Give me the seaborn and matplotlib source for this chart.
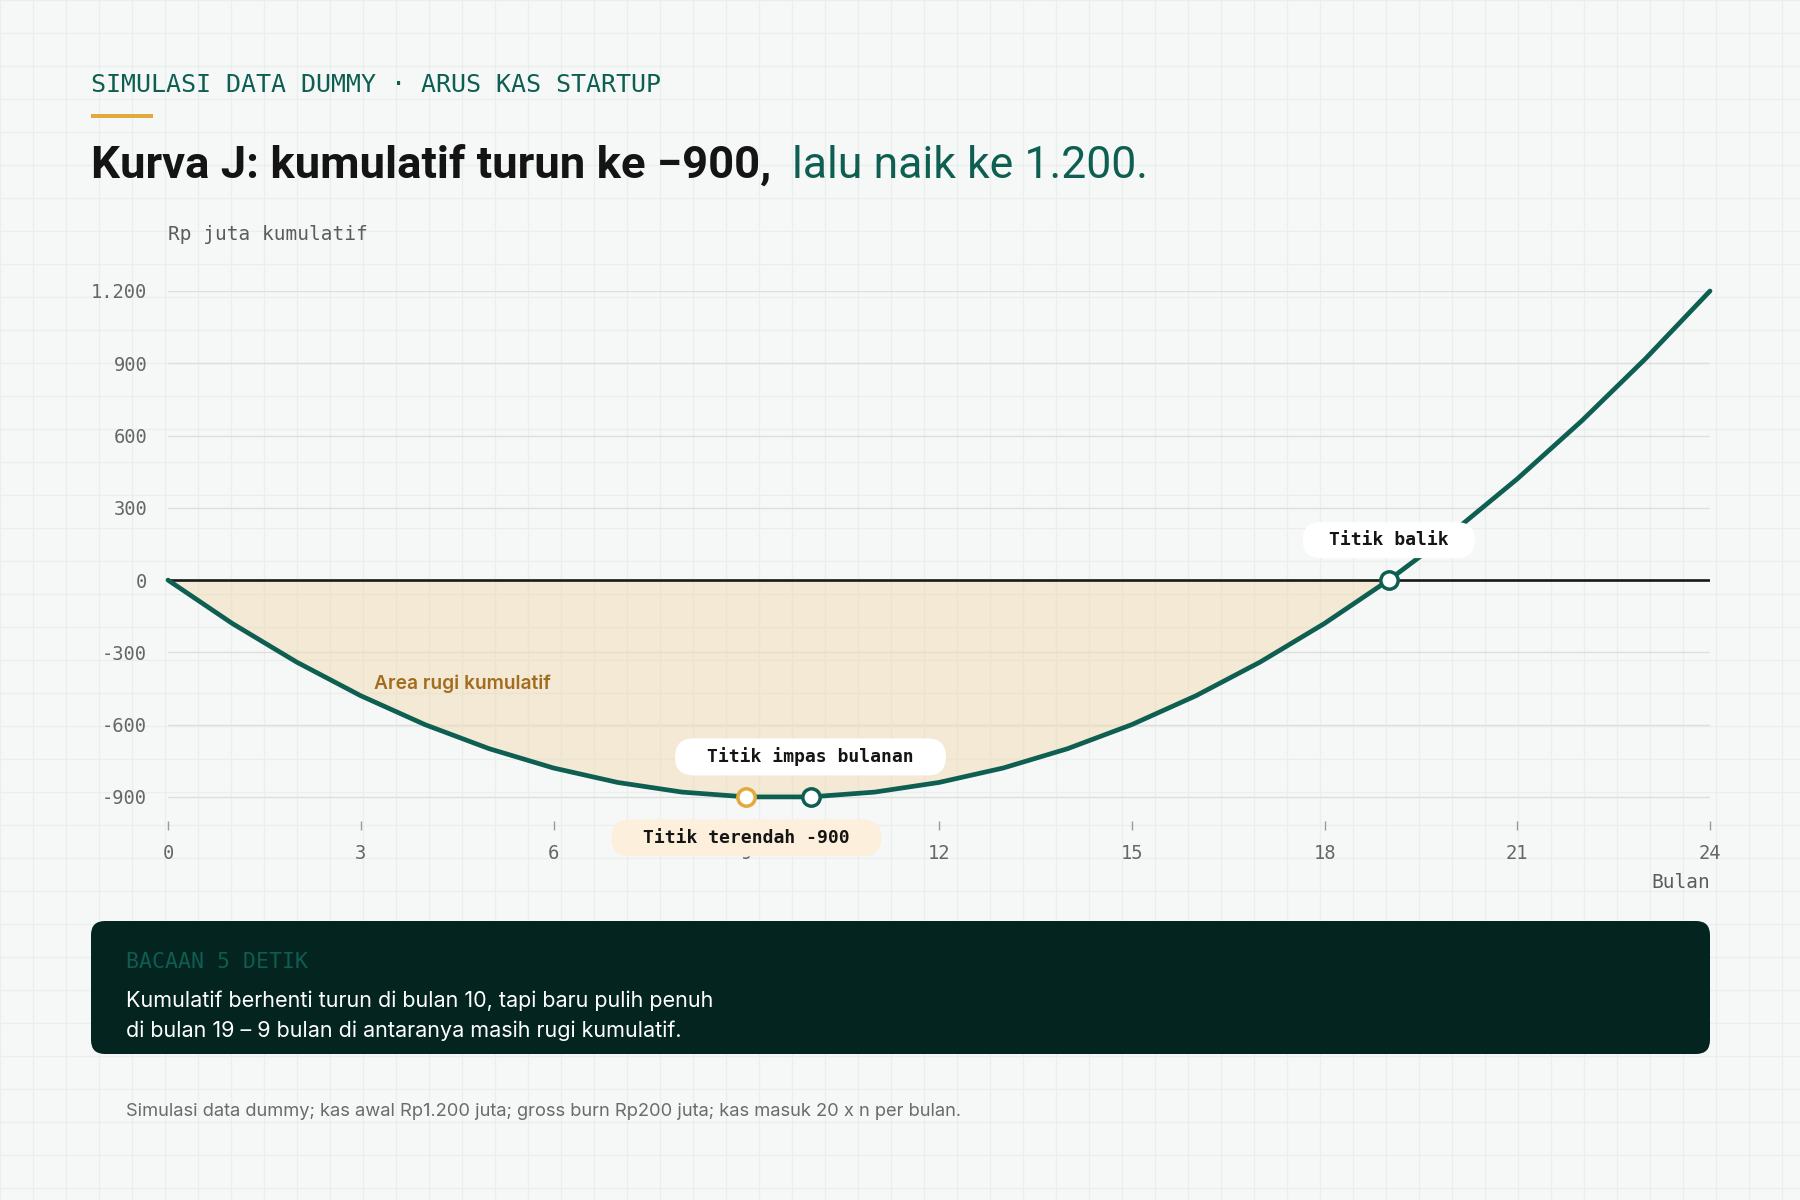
import matplotlib
matplotlib.use("Agg")
import matplotlib.pyplot as plt
from matplotlib import font_manager
from matplotlib.patches import FancyBboxPatch, Rectangle
from matplotlib.transforms import ScaledTranslation, Affine2D
import seaborn as sns
import pandas as pd

# Data: cumulative cash flow (Rp juta) per month
months = list(range(25))
cumulative = [0, -180, -340, -480, -600, -700, -780, -840, -880, -900, -900,
              -880, -840, -780, -700, -600, -480, -340, -180, 0,
              200, 420, 660, 920, 1200]
y_ticks = [-900, -600, -300, 0, 300, 600, 900, 1200]
y_tick_labels = ["-900", "-600", "-300", "0", "300", "600", "900", "1.200"]
x_ticks = [0, 3, 6, 9, 12, 15, 18, 21, 24]

df = pd.DataFrame({"bulan": months, "kumulatif": cumulative})

# Colours
TEAL = "#0e5f52"
ORANGE = "#e2a93c"
DARK = "#03241f"
BG = "#f6f8f7"
BG_GRID = "#eaeeed"
FILL = "#f1ddb8"
BROWN = "#a26d1f"
GRAY = "#666666"

sns.set_theme(style="white")

available = {f.name for f in font_manager.fontManager.ttflist}


def pick(*names):
    for n in names:
        if n in available:
            return n
    return "DejaVu Sans"


SANS = pick("Inter", "Noto Sans", "Roboto")
TITLE = pick("Liberation Sans Narrow", "Roboto", "Inter")
MONO = pick("DejaVu Sans Mono", "Liberation Mono")
plt.rcParams["font.family"] = [SANS, "DejaVu Sans"]

W, H = 1800, 1200
fig = plt.figure(figsize=(18, 12), dpi=100)
fig.patch.set_facecolor(BG)

# background canvas in pixel coordinates (y down)
bg = fig.add_axes([0, 0, 1, 1], zorder=0)
bg.set_xlim(0, W)
bg.set_ylim(H, 0)
bg.axis("off")
for gx in range(0, W + 1, 33):
    bg.axvline(gx, color=BG_GRID, lw=1, zorder=0)
for gy in range(0, H + 1, 33):
    bg.axhline(gy, color=BG_GRID, lw=1, zorder=0)

# header
bg.text(91, 85, "SIMULASI DATA DUMMY · ARUS KAS STARTUP", fontsize=18,
        family=MONO, color=TEAL, va="center", ha="left")
bg.add_patch(Rectangle((91, 114), 62, 4, color=ORANGE, lw=0))
t1 = bg.text(91, 178, "Kurva J: kumulatif turun ke −900,", fontsize=36,
             family=TITLE, weight="bold", color="#141414", va="baseline")
t2 = bg.text(792, 178, "lalu naik ke 1.200.", fontsize=36,
             family=TITLE, color=TEAL, va="baseline")
fig.canvas.draw()
renderer = fig.canvas.get_renderer()
for t, target in [(t1, 680), (t2, 356)]:
    w = t.get_window_extent(renderer).width
    t.set_fontsize(t.get_fontsize() * target / w)

# chart
ax = fig.add_axes([168 / W, 1 - 821 / H, (1710 - 168) / W, (821 - 291) / H], zorder=1)
ax.patch.set_alpha(0)

ax.fill_between(df["bulan"], df["kumulatif"], 0, where=df["kumulatif"] <= 0,
                color=FILL, alpha=0.55, lw=0, zorder=1)
ax.axhline(0, color="#151a18", lw=1.9, zorder=3)
sns.lineplot(data=df, x="bulan", y="kumulatif", ax=ax, color=TEAL, lw=3.4,
             zorder=4, clip_on=False)

ax.set_xlim(0, 24)
ax.set_ylim(-1000, 1200)
ax.set_xticks(x_ticks)
ax.set_xticklabels([str(v) for v in x_ticks])
ax.set_yticks(y_ticks)
ax.set_yticklabels(y_tick_labels)
ax.set_xlabel("")
ax.set_ylabel("")
ax.grid(axis="y", color="#dcdfde", lw=1)
ax.grid(axis="x", visible=False)
ax.set_axisbelow(True)
for s in ax.spines.values():
    s.set_visible(False)
ax.tick_params(axis="x", length=6.5, width=1, color="#9a9a9a", pad=10,
               labelsize=13.5, labelcolor=GRAY, direction="out", bottom=True)
ax.tick_params(axis="y", length=0, pad=15, labelsize=13.5, labelcolor=GRAY)
for lab in ax.get_xticklabels() + ax.get_yticklabels():
    lab.set_family(MONO)

bg.text(168, 235, "Rp juta kumulatif", fontsize=14, family=MONO,
        color="#5c5c5c", va="center")
bg.text(1710, 883, "Bulan", fontsize=14, family=MONO, color="#5c5c5c",
        va="center", ha="right")

ax.text(3.2, -431, "Area rugi kumulatif", fontsize=13.8, weight="semibold",
        color=BROWN, va="center", ha="left", zorder=5)

# key points
low_idx = cumulative.index(min(cumulative))
flat_idx = low_idx + 1
payback_idx = next(i for i in range(1, len(cumulative)) if cumulative[i] >= 0)


def marker(i, color):
    ax.plot(months[i], cumulative[i], "o", ms=12.5, mfc="white", mec=color,
            mew=2.5, zorder=6, clip_on=False)


def pill(i, dy, text, fc, w, h):
    x, y = months[i], cumulative[i]
    tr = Affine2D().translate(0, dy) + ScaledTranslation(x, y, ax.transData)
    box = FancyBboxPatch((-w / 2, -h / 2), w, h,
                         boxstyle=f"round,pad=0,rounding_size={h / 2}",
                         transform=tr, fc=fc, ec="none", zorder=7, clip_on=False)
    ax.add_patch(box)
    ax.annotate(text, xy=(x, y), xytext=(0, dy * 0.72), textcoords="offset points",
                ha="center", va="center", fontsize=13, weight="bold",
                family=MONO, color="#151515", zorder=8, annotation_clip=False)


marker(low_idx, ORANGE)
marker(flat_idx, TEAL)
marker(payback_idx, TEAL)
pill(flat_idx, 40, "Titik impas bulanan", "white", 271, 37)
pill(low_idx, -41, "Titik terendah -900", "#fcefdc", 270, 37)
pill(payback_idx, 40, "Titik balik", "white", 172, 36)

# reading panel
bg.add_patch(FancyBboxPatch((91, 921), 1619, 133,
                            boxstyle="round,pad=0,rounding_size=14",
                            fc=DARK, ec="none", zorder=2))
bg.text(126, 962, "BACAAN 5 DETIK", fontsize=15.5, family=MONO, color="#0f5c50",
        va="center", zorder=3)
bg.text(126, 1016,
        "Kumulatif berhenti turun di bulan 10, tapi baru pulih penuh\n"
        "di bulan 19 – 9 bulan di antaranya masih rugi kumulatif.",
        fontsize=15.5, color="white", va="center", linespacing=1.55, zorder=3)

bg.text(126, 1111,
        "Simulasi data dummy; kas awal Rp1.200 juta; gross burn Rp200 juta; "
        "kas masuk 20 x n per bulan.",
        fontsize=13.2, color="#6b6b6b", va="center")

fig.savefig("out.png", dpi=100, facecolor=BG)
